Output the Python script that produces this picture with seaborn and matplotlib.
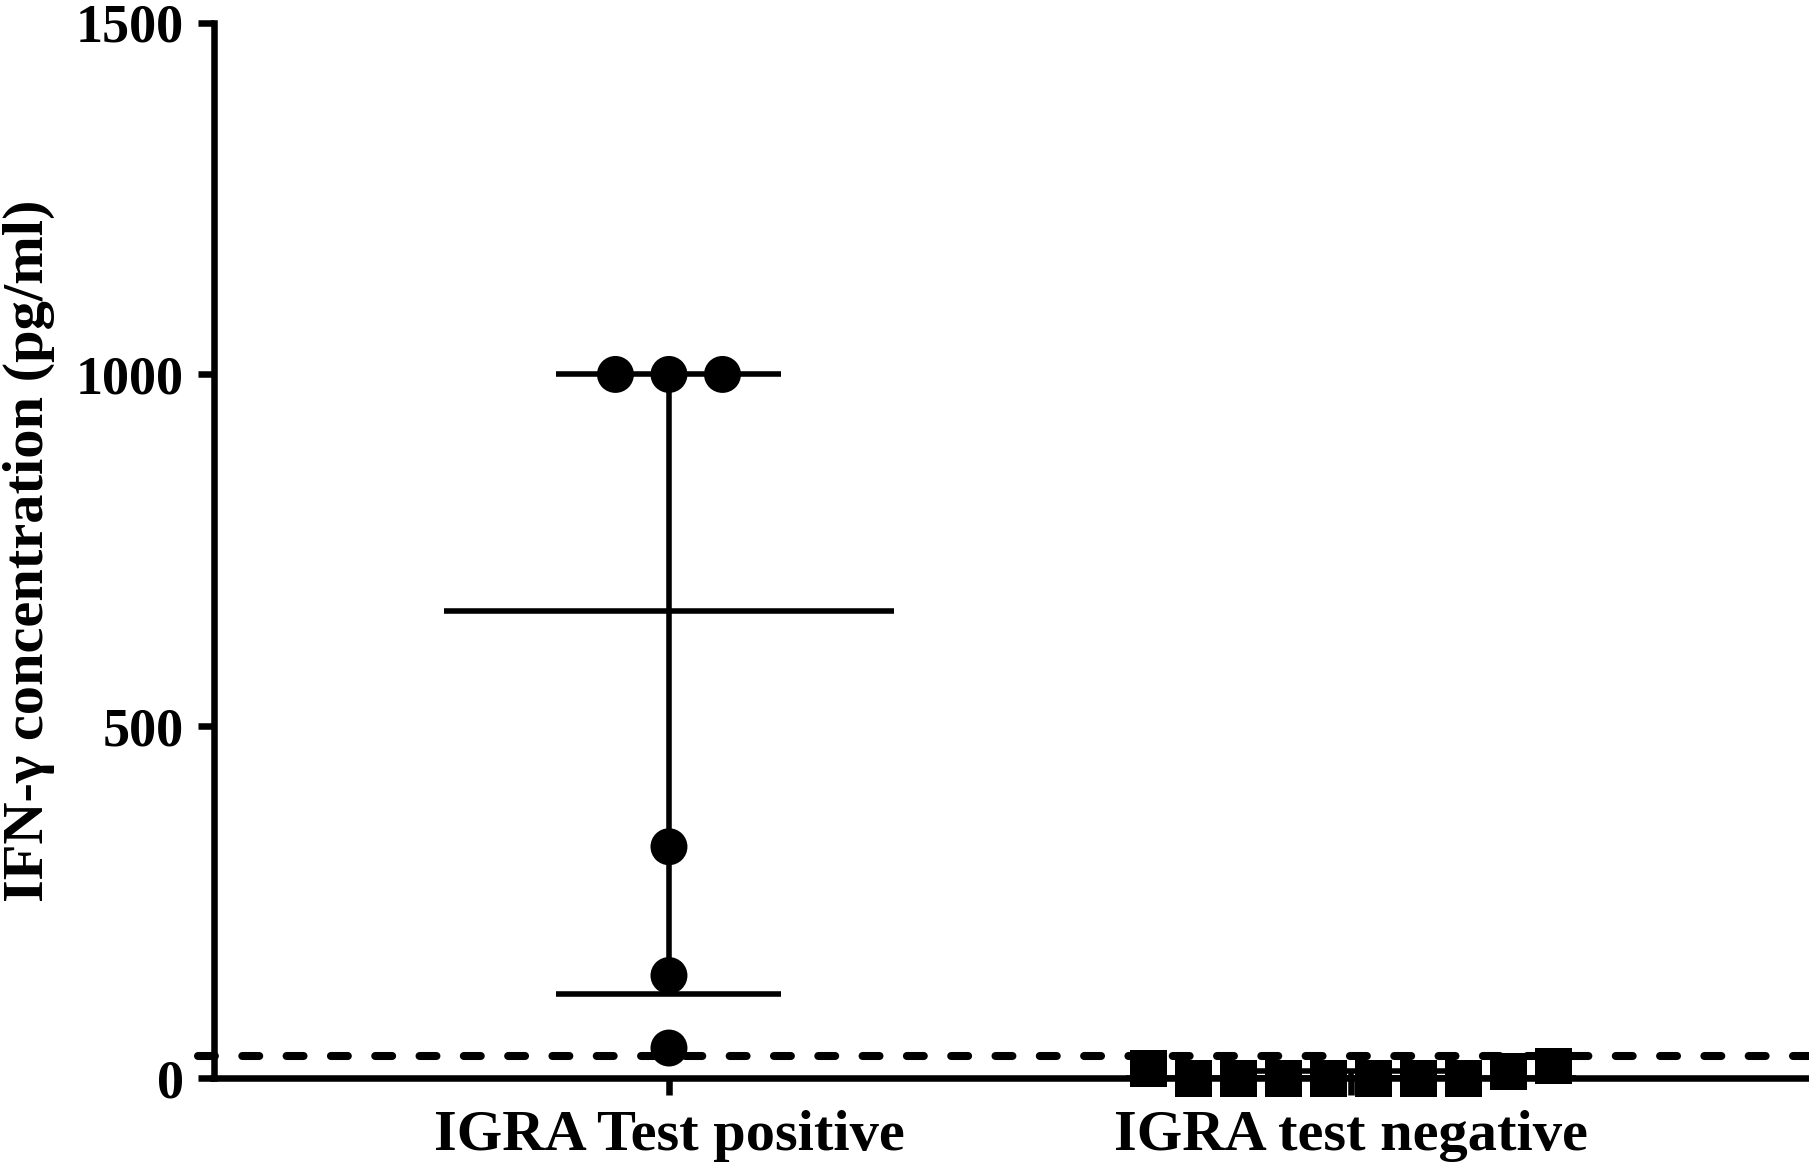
import numpy as np
import pandas as pd
import matplotlib
matplotlib.use("Agg")
import matplotlib.pyplot as plt
import seaborn as sns

# ---- data ----
groups = ["IGRA Test positive", "IGRA test negative"]
positive_values = [1000, 1000, 1000, 329, 146, 43]
negative_values = [14, 0, 0, 0, 0, 0, 0, 0, 10, 17.5]
cutoff = 32
y_ticks = [0, 500, 1000, 1500]
y_label = "IFN-\u03b3 concentration (pg/ml)"

# ---- style ----
sns.set_theme(style="ticks")
plt.rcParams["font.family"] = ["Liberation Serif", "DejaVu Serif"]
plt.rcParams["font.weight"] = "bold"
for k in ["text.color", "axes.labelcolor", "xtick.color", "ytick.color",
          "xtick.labelcolor", "ytick.labelcolor"]:
    plt.rcParams[k] = "black"

W, H, DPI = 1809, 1166, 100
fig = plt.figure(figsize=(W / DPI, H / DPI), dpi=DPI)
ax = fig.add_axes([213.5 / W, 1 - 1078.3 / H, 1 - 213.5 / W, (1078.3 - 22.5) / H])

marker_pt = 26.6              # marker diameter/side in points
spacing = [0.0785, 0.066]     # horizontal spacing between overlapping points
markers = ["o", "s"]
lw_err = 4.0
lw_axis = 4.7

ylim = (0, 1500)
xlim = (-0.668, 1.672)
ax.set_xlim(*xlim)
ax.set_ylim(*ylim)

# row-wise spreading of overlapping points (GraphPad-like scatter)
px_per_unit = (1078.3 - 22.5) / (ylim[1] - ylim[0])
thr = marker_pt * DPI / 72 / px_per_unit

rows = []
for gi, vals in enumerate([positive_values, negative_values]):
    rows_g = []
    for v in vals:
        for r in rows_g:
            if abs(v - r[0]) < thr:
                r.append(v)
                break
        else:
            rows_g.append([v])
    for r in rows_g:
        n = len(r)
        for k, v in enumerate(r):
            rows.append({"group": groups[gi], "gi": gi,
                         "x": gi + (k - (n - 1) / 2) * spacing[gi], "value": v})
df = pd.DataFrame(rows)

# median with interquartile range
for gi, vals in enumerate([positive_values, negative_values]):
    med, q1, q3 = np.percentile(vals, [50, 25, 75], method="weibull")
    ax.hlines(med, gi - 0.33, gi + 0.33, color="black", lw=lw_err, zorder=3)
    ax.vlines(gi, q1, q3, color="black", lw=lw_err, zorder=3)
    ax.hlines([q1, q3], gi - 0.165, gi + 0.165, color="black", lw=lw_err, zorder=3)

sns.scatterplot(data=df, x="x", y="value", style="group",
                markers={groups[0]: markers[0], groups[1]: markers[1]},
                color="black", edgecolor="black", linewidth=0,
                s=marker_pt ** 2, legend=False, ax=ax, zorder=5, clip_on=False)

# cut-off dashed line
ax.axhline(cutoff, xmin=-15.5 / (W - 213.5), xmax=1, color="black", lw=5.8,
           linestyle=(0, (2.1, 3.4)), dash_capstyle="round", clip_on=False, zorder=4)

ax.set_xlim(*xlim)
ax.set_ylim(*ylim)
ax.set_xticks([0, 1])
ax.set_xticklabels(groups)
ax.set_yticks(y_ticks)
ax.set_xlabel("")
ax.set_ylabel(y_label, fontsize=42, fontweight="bold", color="black")
ax.yaxis.set_label_coords((55 - 213.5) / (W - 213.5), 0.5)

for s in ["top", "right"]:
    ax.spines[s].set_visible(False)
for s in ["left", "bottom"]:
    ax.spines[s].set_linewidth(lw_axis)
    ax.spines[s].set_color("black")
    ax.spines[s].set_capstyle("projecting")

ax.tick_params(axis="y", length=11.2, width=lw_axis, color="black",
               labelcolor="black", labelsize=39, pad=10)
ax.tick_params(axis="x", length=12, width=lw_axis, color="black",
               labelcolor="black", labelsize=42, pad=11)
for lab in ax.get_xticklabels() + ax.get_yticklabels():
    lab.set_fontweight("bold")

fig.savefig("out.png", dpi=DPI)
